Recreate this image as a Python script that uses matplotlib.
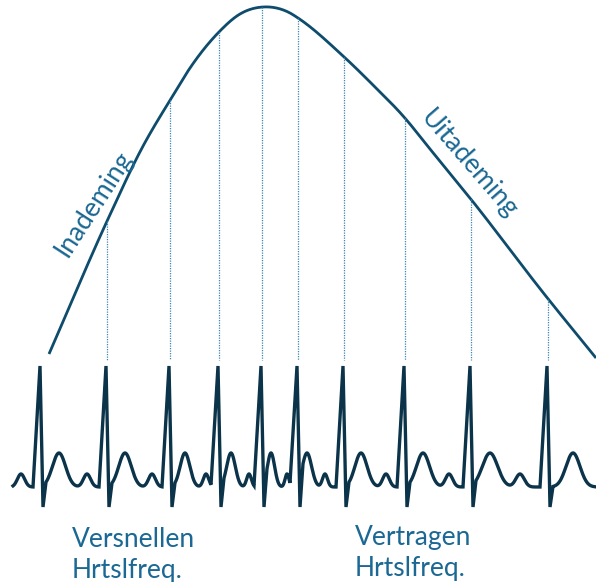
import numpy as np
import matplotlib.pyplot as plt

# breathing curve (x, y in pixels, y down)
breath_x = [49, 108, 142, 172, 190, 218, 240, 263, 290, 298, 342, 373, 404, 430, 470, 545, 596]
breath_y = [354, 219, 148, 97, 68, 33, 14, 7, 13, 18, 55, 85, 117, 149, 198, 295, 358]

# ECG: R peaks, T wave peaks and P wave peaks (x in pixels)
r_peaks = [40, 106, 169, 218, 261, 297, 343, 404, 470, 547]
t_peaks = [59, 125, 185, 231, 271, 307, 361, 423, 490, 573]
p_peaks = [21, 87, 152, 206, 249, 287, 325, 386, 449, 520]
baseline = 487
r_top = 366
s_bottom = 507
t_height = 34
p_height = 13

labels_left = ["Versnellen", "Hrtslfreq."]
labels_right = ["Vertragen", "Hrtslfreq."]

curve_col = "#0e4c6d"
ecg_col = "#0b3349"
dot_col = "#3d87b0"
text_col = "#1a6893"


def smooth_curve(px, py, n=30):
    # cubic hermite through the read points, tangents from neighbours
    px = np.asarray(px, float)
    py = np.asarray(py, float)
    m = np.gradient(py, px)
    out_x, out_y = [], []
    for i in range(len(px) - 1):
        h = px[i + 1] - px[i]
        t = np.linspace(0, 1, n, endpoint=False)
        h00 = 2 * t**3 - 3 * t**2 + 1
        h10 = t**3 - 2 * t**2 + t
        h01 = -2 * t**3 + 3 * t**2
        h11 = t**3 - t**2
        out_x.append(px[i] + t * h)
        out_y.append(h00 * py[i] + h10 * h * m[i] + h01 * py[i + 1] + h11 * h * m[i + 1])
    out_x.append([px[-1]])
    out_y.append([py[-1]])
    return np.concatenate(out_x), np.concatenate(out_y)


fig = plt.figure(figsize=(5.96, 5.82), dpi=100)
ax = fig.add_axes([0, 0, 1, 1])
ax.set_xlim(0, 596)
ax.set_ylim(582, 0)
ax.axis("off")

# smooth part of the ECG (T and P waves on a baseline)
xs = np.arange(13, 596.01, 0.25)
ys = np.full_like(xs, float(baseline))
edges = [r_peaks[0] - 66] + r_peaks + [r_peaks[-1] + 70]
for i, t in enumerate(t_peaks):
    d = edges[i + 2] - edges[i + 1]
    ys -= t_height * np.exp(-(xs - t) ** 2 / (2 * (0.1 * d) ** 2))
for i, p in enumerate(p_peaks):
    d = edges[i + 1] - edges[i]
    ys -= p_height * np.exp(-(xs - p) ** 2 / (2 * (0.055 * d) ** 2))

# splice the QRS spikes in
ex, ey = [], []
start = xs[0]
for r in r_peaks:
    m = (xs >= start) & (xs <= r - 7)
    ex += list(xs[m]); ey += list(ys[m])
    ex += [r, r + 3]; ey += [r_top, s_bottom]
    start = r + 6
m = xs >= start
ex += list(xs[m]); ey += list(ys[m])
ax.plot(ex, ey, color=ecg_col, lw=2.4, solid_joinstyle="miter")

# breathing curve
bx, by = smooth_curve(breath_x, breath_y)
ax.plot(bx, by, color=curve_col, lw=2.0, solid_capstyle="butt")

# dotted lines from curve down to the R peaks
for r in r_peaks[1:]:
    top = np.interp(r + 1, bx, by)
    ax.plot([r + 1, r + 1], [top, r_top - 6], color=dot_col, lw=0.9, ls=(0, (1, 1)))

font = "Lato"
fs = 19
ax.text(94, 204, "Inademing", rotation=57, ha="center", va="center",
        fontsize=fs, color=text_col, family=font)
ax.text(469, 164, "Uitademing", rotation=-49, ha="center", va="center",
        fontsize=fs, color=text_col, family=font)
for s, yb in zip(labels_left, [547, 578]):
    ax.text(72, yb, s, ha="left", va="baseline", fontsize=fs, color=text_col, family=font)
for s, yb in zip(labels_right, [545, 576]):
    ax.text(355, yb, s, ha="left", va="baseline", fontsize=fs, color=text_col, family=font)

fig.savefig("out.png", dpi=100)
